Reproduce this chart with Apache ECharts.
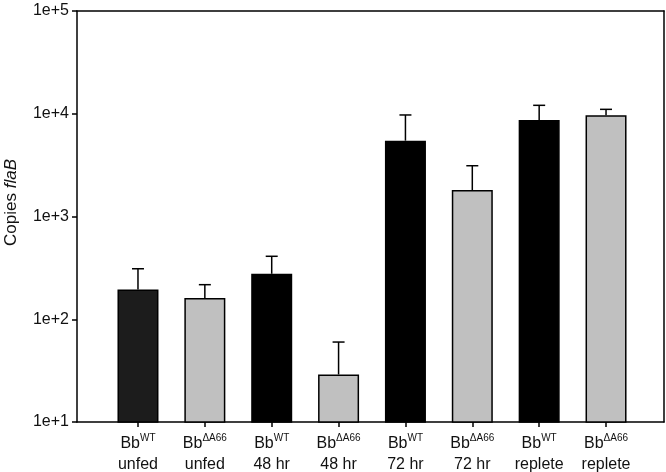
<!DOCTYPE html>
<html>
<head>
<meta charset="utf-8">
<script src="https://cdn.jsdelivr.net/npm/echarts@6/dist/echarts.min.js"></script>
<style>html,body{margin:0;padding:0;background:#fff;}#c{width:666px;height:472px;}</style>
</head>
<body>
<div id="c"></div>
<script>
// Data
var strains = ['WT', 'ΔA66', 'WT', 'ΔA66', 'WT', 'ΔA66', 'WT', 'ΔA66'];
var conditions = ['unfed', 'unfed', '48 hr', '48 hr', '72 hr', '72 hr', 'replete', 'replete'];
var means = [195, 161, 277, 29, 5470, 1810, 8690, 9660];
var upperErr = [310, 217, 410, 60, 9730, 3120, 12080, 11040];
var yTickValues = [10, 100, 1000, 10000, 100000];
var yTickLabels = ['1e+1', '1e+2', '1e+3', '1e+4', '1e+5'];
var barColors = ['#1c1c1c', '#c0c0c0', '#000000', '#c0c0c0', '#000000', '#c0c0c0', '#000000', '#c0c0c0'];

var idx = strains.map(function (s, i) { return i; });
var barData = means.map(function (v, i) {
  return { value: [i, v], itemStyle: { color: barColors[i] } };
});
var errData = means.map(function (v, i) { return [i, v, upperErr[i]]; });

var xMin = -0.912, xMax = 7.867;
var font = 'Liberation Sans, Arial, sans-serif';

var chart = echarts.init(document.getElementById('c'), null, { renderer: 'canvas' });
chart.setOption({
  animation: false,
  backgroundColor: '#fff',
  grid: { left: 77, right: 2, top: 11, bottom: 50, containLabel: false, outerBoundsMode: 'none' },
  xAxis: [{
    type: 'value', min: xMin, max: xMax, position: 'bottom',
    splitLine: { show: false },
    axisLine: { show: true, onZero: false, lineStyle: { color: '#000', width: 1.5 } },
    axisTick: { show: true, inside: false, length: 5, customValues: idx, lineStyle: { color: '#000', width: 1.5 } },
    axisLabel: {
      show: true, customValues: idx, margin: 11, color: '#111',
      fontFamily: font, fontSize: 16, lineHeight: 21,
      formatter: function (v) {
        var i = Math.round(v);
        return 'Bb{s|' + strains[i] + '}\n' + conditions[i];
      },
      rich: { s: { fontSize: 10, lineHeight: 10, verticalAlign: 'top', fontFamily: font, color: '#111' } }
    }
  }, {
    type: 'value', min: xMin, max: xMax, position: 'top',
    splitLine: { show: false },
    axisLine: { show: true, onZero: false, lineStyle: { color: '#000', width: 1.5 } },
    axisTick: { show: false }, axisLabel: { show: false }
  }],
  yAxis: [{
    type: 'log', logBase: 10, min: 10, max: 100000, position: 'left',
    name: 'Copies {i|flaB}', nameLocation: 'middle', nameGap: 57, nameRotate: 90,
    nameTextStyle: { fontFamily: font, fontSize: 17, color: '#111', padding: [0, 0, 0, 28],
      rich: { i: { fontStyle: 'italic', fontFamily: font, fontSize: 17, color: '#111' } } },
    splitLine: { show: false },
    axisLine: { show: true, onZero: false, lineStyle: { color: '#000', width: 1.5 } },
    axisTick: { show: true, inside: false, length: 5, lineStyle: { color: '#000', width: 1.5 } },
    axisLabel: {
      margin: 8, color: '#111', fontFamily: font, fontSize: 16,
      formatter: function (v) {
        var k = yTickValues.indexOf(Math.round(v));
        return k >= 0 ? yTickLabels[k] : '';
      }
    }
  }, {
    type: 'log', logBase: 10, min: 10, max: 100000, position: 'right',
    splitLine: { show: false },
    axisLine: { show: true, onZero: false, lineStyle: { color: '#000', width: 1.5 } },
    axisTick: { show: false }, axisLabel: { show: false }
  }],
  series: [{
    type: 'bar', xAxisIndex: 0, yAxisIndex: 0,
    barWidth: 41,
    data: barData,
    itemStyle: { borderColor: '#000', borderWidth: 1.5 }
  }, {
    type: 'custom', xAxisIndex: 0, yAxisIndex: 0, z: 3,
    data: errData,
    renderItem: function (params, api) {
      var x = api.value(0);
      var p0 = api.coord([x, api.value(1)]);
      var p1 = api.coord([x, api.value(2)]);
      var cap = 6;
      return {
        type: 'group',
        children: [{
          type: 'line', shape: { x1: p0[0], y1: p0[1], x2: p1[0], y2: p1[1] },
          style: { stroke: '#000', lineWidth: 1.5 }
        }, {
          type: 'line', shape: { x1: p1[0] - cap, y1: p1[1], x2: p1[0] + cap, y2: p1[1] },
          style: { stroke: '#000', lineWidth: 1.5 }
        }]
      };
    }
  }]
});
</script>
</body>
</html>
